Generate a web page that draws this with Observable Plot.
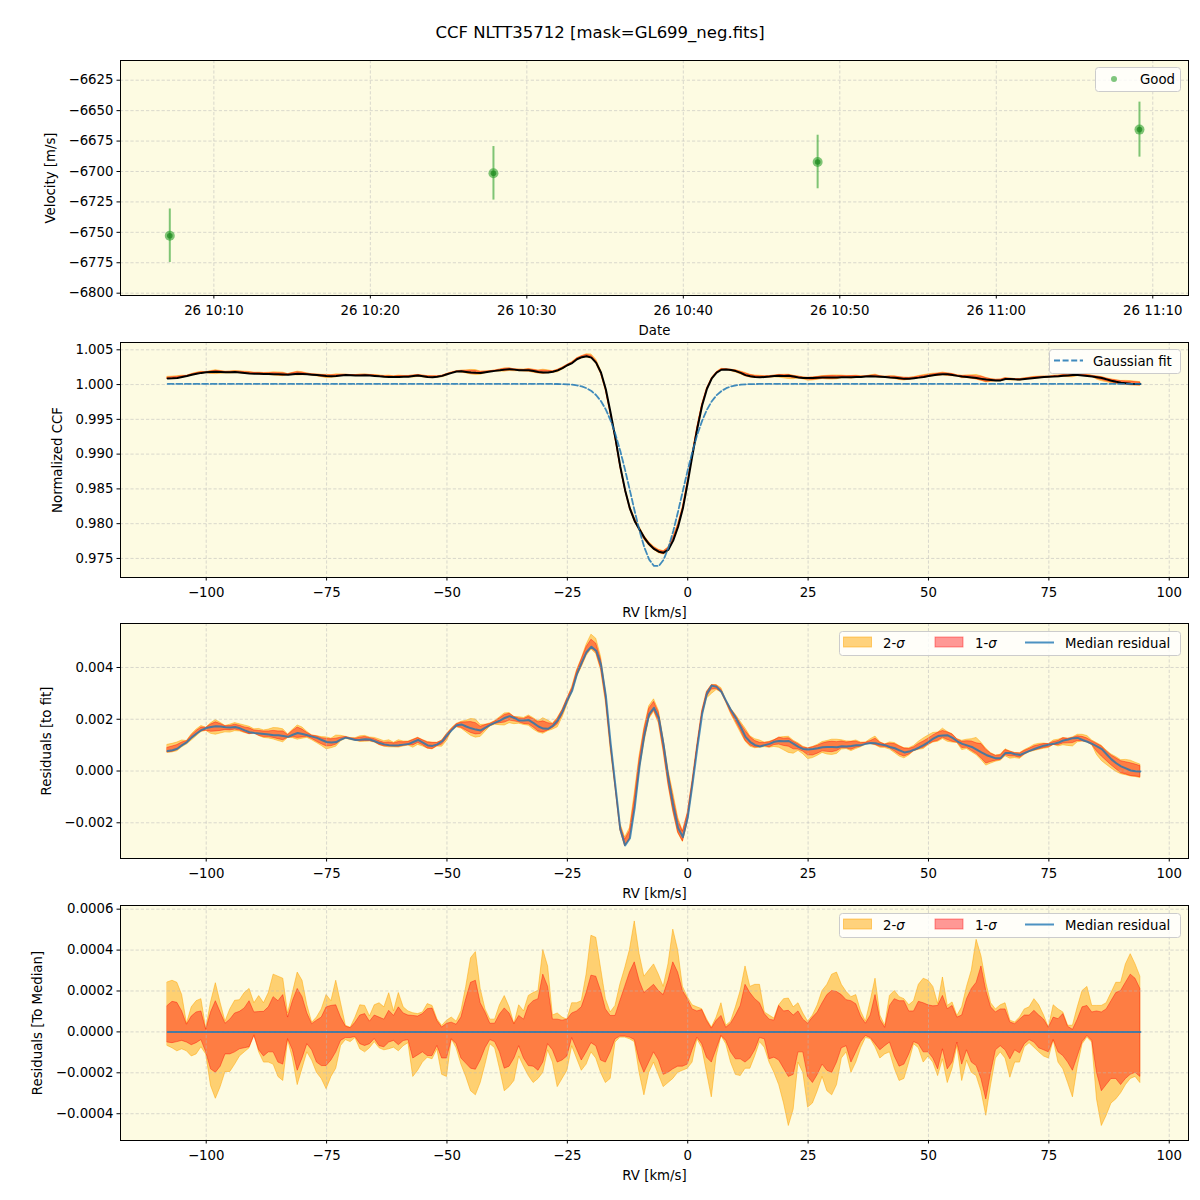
<!DOCTYPE html>
<html>
<head>
<meta charset="utf-8">
<script src="https://cdn.jsdelivr.net/npm/d3@7"></script>
<script src="https://cdn.jsdelivr.net/npm/@observablehq/plot@0.6"></script>
<style>
  html, body { margin: 0; padding: 0; background: #ffffff; }
  #wrap { position: relative; width: 1200px; height: 1200px; font-family: "DejaVu Sans", sans-serif; color: #000; }
  #title { position: absolute; left: 0; top: 23px; width: 1200px; text-align: center; font-size: 16.5px; }
  .leg { position: absolute; overflow: visible; }
</style>
</head>
<body>
<div id="wrap"><div id="title">CCF NLTT35712 [mask=GL699_neg.fits]</div></div>
<script>
// ---------------- DATA ----------------
// Panel 1: observations (time of each CCF, velocity and its error)
const obsTimes = ["10:07:11", "10:27:52", "10:48:35", "11:09:09"];
const obsVelocity = [-6752.8, -6701.5, -6692.2, -6665.6];
const obsVelocityErr = [22.0, 22.0, 22.0, 22.6];
const obsDay = "2023-06-26";
const dateTicks = ["10:10", "10:20", "10:30", "10:40", "10:50", "11:00", "11:10"];
const velocityTicks = [-6800, -6775, -6750, -6725, -6700, -6675, -6650, -6625];

// RV grid [km/s] (1 km/s steps)
const rv = d3.range(-108, 95, 1);
const rvTicks = [-100, -75, -50, -25, 0, 25, 50, 75, 100];
const ccfTicks = [0.975, 0.980, 0.985, 0.990, 0.995, 1.000, 1.005];
const residTicks = [-0.002, 0.000, 0.002, 0.004];
const medTicks = [-0.0004, -0.0002, 0.0000, 0.0002, 0.0004, 0.0006];

// Gaussian fit of the CCF on the rv grid
const gaussFit = [
  1.0001,1.0001,1.0001,1.0001,1.0001,1.0001,1.0001,1.0001,1.0001,1.0001,
  1.0001,1.0001,1.0001,1.0001,1.0001,1.0001,1.0001,1.0001,1.0001,1.0001,
  1.0001,1.0001,1.0001,1.0001,1.0001,1.0001,1.0001,1.0001,1.0001,1.0001,
  1.0001,1.0001,1.0001,1.0001,1.0001,1.0001,1.0001,1.0001,1.0001,1.0001,
  1.0001,1.0001,1.0001,1.0001,1.0001,1.0001,1.0001,1.0001,1.0001,1.0001,
  1.0001,1.0001,1.0001,1.0001,1.0001,1.0001,1.0001,1.0001,1.0001,1.0001,
  1.0001,1.0001,1.0001,1.0001,1.0001,1.0001,1.0001,1.0001,1.0001,1.0001,
  1.0001,1.0001,1.0001,1.0001,1.0001,1.0001,1.0001,1.0001,1.0001,1.0001,
  1.00009,1.00008,1.00007,1.00004,0.99999,0.99989,0.99974,0.99948,0.99907,0.99847,
  0.99760,0.99640,0.99482,0.99283,0.99044,0.98770,0.98475,0.98176,0.97895,0.97657,
  0.97483,0.97392,0.97392,0.97483,0.97657,0.97895,0.98176,0.98475,0.98770,0.99044,
  0.99283,0.99482,0.99640,0.99760,0.99847,0.99907,0.99948,0.99974,0.99989,0.99999,
  1.00004,1.00007,1.00008,1.00009,
  1.0001,1.0001,1.0001,1.0001,1.0001,1.0001,1.0001,1.0001,1.0001,1.0001,
  1.0001,1.0001,1.0001,1.0001,1.0001,1.0001,1.0001,1.0001,1.0001,1.0001,
  1.0001,1.0001,1.0001,1.0001,1.0001,1.0001,1.0001,1.0001,1.0001,1.0001,
  1.0001,1.0001,1.0001,1.0001,1.0001,1.0001,1.0001,1.0001,1.0001,1.0001,
  1.0001,1.0001,1.0001,1.0001,1.0001,1.0001,1.0001,1.0001,1.0001,1.0001,
  1.0001,1.0001,1.0001,1.0001,1.0001,1.0001,1.0001,1.0001,1.0001,1.0001,
  1.0001,1.0001,1.0001,1.0001,1.0001,1.0001,1.0001,1.0001,1.0001,1.0001,
  1.0001,1.0001,1.0001,1.0001,1.0001,1.0001,1.0001,1.0001,1.0001
];

// Median residual (CCF - fit), units of 1e-3
const medianResid = [
  0.77,0.80,0.86,1.00,1.12,1.30,1.45,1.58,1.66,1.70,
  1.73,1.72,1.69,1.68,1.70,1.65,1.57,1.50,1.47,1.45,
  1.43,1.41,1.38,1.38,1.35,1.32,1.40,1.47,1.43,1.38,
  1.33,1.28,1.20,1.12,1.10,1.12,1.22,1.29,1.25,1.20,
  1.21,1.23,1.22,1.15,1.08,1.03,1.00,0.99,1.00,1.02,
  1.04,1.12,1.20,1.10,0.99,0.97,1.03,1.15,1.38,1.58,
  1.77,1.80,1.72,1.65,1.60,1.57,1.68,1.78,1.87,1.95,
  2.05,2.12,2.05,1.95,1.95,1.97,1.85,1.72,1.64,1.63,
  1.75,1.96,2.30,2.74,3.10,3.75,4.20,4.60,4.80,4.65,
  4.10,2.90,1.05,-0.60,-2.25,-2.88,-2.60,-1.40,0.20,1.40,
  2.20,2.44,2.05,1.00,-0.30,-1.35,-2.20,-2.55,-1.80,-0.50,
  0.90,2.20,3.00,3.30,3.25,3.06,2.70,2.35,2.05,1.70,
  1.32,1.12,1.00,0.95,1.00,1.05,1.13,1.16,1.15,1.16,
  1.05,0.93,0.85,0.83,0.85,0.88,0.92,0.93,0.93,0.92,
  0.96,0.95,0.97,1.00,1.00,1.05,1.08,1.07,1.03,1.00,
  0.93,0.88,0.80,0.72,0.75,0.82,0.90,1.00,1.12,1.25,
  1.35,1.37,1.38,1.28,1.15,1.05,0.99,0.93,0.83,0.72,
  0.62,0.55,0.49,0.50,0.70,0.70,0.65,0.62,0.70,0.78,
  0.85,0.92,0.98,1.02,1.05,1.10,1.18,1.22,1.27,1.28,
  1.20,1.13,1.05,0.95,0.85,0.65,0.45,0.30,0.18,0.10,
  0.02,-0.01,-0.02
];

// Bands relative to the median, units of 1e-4
const upper2 = [
  2.42,2.50,2.40,1.80,0.40,1.20,1.50,1.60,0.15,1.44,
  2.38,1.40,0.50,1.10,1.52,1.55,1.90,2.10,1.40,1.75,
  1.40,1.90,2.80,2.70,2.60,0.90,1.90,2.90,2.50,1.30,
  0.45,0.70,1.10,1.80,1.50,2.50,1.40,0.30,0.20,0.70,
  1.30,1.27,0.75,1.30,1.40,1.20,1.89,1.00,1.90,1.20,
  1.00,0.91,0.87,0.95,1.36,1.27,0.62,0.29,0.55,0.70,
  0.50,1.00,2.20,3.60,3.90,2.10,1.10,0.60,0.60,1.30,
  1.75,1.20,0.38,1.30,1.00,1.76,1.90,2.00,4.00,3.20,
  0.80,0.90,0.70,0.60,1.40,1.40,1.50,2.80,4.70,4.60,
  3.10,1.60,0.95,1.27,2.30,3.10,4.00,5.40,3.80,2.70,
  3.00,3.30,2.80,2.20,3.30,5.00,4.00,2.20,1.70,1.30,
  1.20,1.11,0.62,0.21,0.70,1.40,0.30,0.50,1.20,2.00,
  3.20,2.20,2.30,2.30,0.95,0.80,0.65,1.30,1.60,1.63,
  1.20,1.40,0.90,0.50,0.80,1.30,2.00,2.30,2.80,2.90,
  2.30,1.95,1.70,1.80,1.00,0.50,1.50,2.60,0.80,0.30,
  1.76,2.00,1.70,1.60,1.30,1.50,2.30,2.60,2.50,2.20,
  1.36,2.66,1.27,1.44,0.78,1.20,2.20,3.00,4.50,3.70,
  2.40,1.40,1.10,1.30,1.40,0.55,0.46,0.70,1.10,1.20,
  1.60,1.30,0.80,0.20,1.30,1.10,0.95,0.30,0.30,1.20,
  2.00,2.20,1.27,1.27,1.27,1.40,1.90,2.40,2.40,3.30,
  3.80,3.30,2.70
];
const upper1 = [
  1.27,1.47,1.42,1.00,0.35,0.75,0.95,1.00,0.10,0.95,
  1.50,0.95,0.40,0.60,0.90,0.98,1.15,1.50,0.95,0.97,
  0.98,1.20,1.70,1.50,1.80,0.70,1.50,2.10,1.70,0.90,
  0.38,0.55,0.70,1.20,1.27,1.30,0.70,0.26,0.18,0.45,
  0.80,0.87,0.50,0.80,0.70,0.60,1.03,0.78,1.20,0.90,
  0.80,0.78,0.75,0.87,1.11,1.14,0.54,0.21,0.40,0.45,
  0.35,0.70,1.60,2.40,2.50,1.40,0.95,0.40,0.40,0.85,
  1.15,0.90,0.38,0.78,0.60,1.27,1.50,1.60,2.80,2.20,
  0.60,0.60,0.55,0.60,0.90,1.00,1.20,1.90,2.75,2.70,
  2.00,1.10,0.78,0.78,1.50,2.20,2.90,3.40,2.50,1.90,
  2.10,2.30,2.00,1.80,2.50,3.40,2.90,2.00,1.60,1.10,
  1.00,1.07,0.54,0.16,0.54,0.78,0.20,0.40,0.80,1.27,
  2.30,1.90,1.60,1.40,0.87,0.60,0.55,1.27,1.00,1.03,
  0.80,1.00,0.60,0.40,0.70,0.95,1.40,1.80,2.00,1.95,
  1.80,1.55,1.50,1.35,0.75,0.40,0.80,1.80,0.60,0.20,
  1.27,1.60,1.50,1.50,1.00,1.00,1.47,1.40,1.30,1.25,
  1.27,1.76,1.11,1.27,0.70,0.80,1.60,2.10,2.40,3.20,
  2.00,1.20,0.95,1.10,1.10,0.46,0.38,0.60,0.80,0.80,
  1.03,0.80,0.60,0.20,0.70,0.62,0.87,0.25,0.10,0.60,
  1.20,1.27,0.95,1.00,0.95,1.10,1.50,1.90,2.00,2.40,
  2.80,2.60,2.10
];
const lower1 = [
  -0.52,-0.55,-0.50,-0.44,-0.52,-0.65,-0.55,-0.40,-1.00,-1.83,
  -2.00,-1.70,-1.10,-1.10,-1.00,-0.85,-0.80,-0.75,-0.20,-0.90,
  -1.20,-1.00,-1.00,-1.50,-1.60,-0.35,-0.90,-1.90,-1.30,-0.60,
  -0.90,-1.50,-1.67,-1.67,-1.40,-1.00,-0.44,-0.30,-0.30,-0.25,
  -0.60,-0.69,-0.60,-0.35,-0.70,-0.75,-0.52,-0.44,-0.65,-0.45,
  -0.40,-1.30,-1.15,-1.00,-1.18,-1.18,-0.69,-1.30,-1.30,-0.36,
  -0.60,-1.30,-1.55,-1.80,-1.85,-1.40,-0.80,-0.40,-0.50,-1.00,
  -1.80,-1.70,-1.30,-0.70,-1.30,-1.67,-1.70,-1.90,-1.50,-0.60,
  -0.90,-1.50,-1.40,-1.20,-0.30,-0.85,-1.40,-1.00,-0.55,-0.70,
  -1.40,-1.50,-1.00,-0.36,-0.23,-0.23,-0.28,-0.40,-1.40,-2.00,
  -1.50,-1.00,-1.40,-2.10,-2.00,-1.83,-1.70,-1.70,-1.60,-0.90,
  -0.28,-0.60,-1.26,-1.50,-0.85,-0.20,-0.44,-1.00,-1.34,-1.34,
  -1.50,-1.30,-0.90,-0.30,-0.36,-1.34,-1.26,-1.40,-1.80,-2.20,
  -2.10,-1.00,-1.00,-2.20,-2.50,-2.10,-1.60,-1.90,-2.00,-1.50,
  -0.80,-0.70,-1.50,-1.00,-0.50,-0.20,-0.30,-0.60,-0.90,-0.70,
  -0.52,-1.20,-1.70,-1.60,-1.10,-0.50,-0.60,-1.00,-1.00,-1.30,
  -1.83,-0.85,-1.83,-1.50,-0.52,-1.60,-0.90,-1.50,-1.67,-2.30,
  -3.30,-2.00,-0.90,-0.70,-0.90,-1.34,-0.90,-1.05,-0.60,-0.40,
  -0.52,-0.80,-0.90,-1.00,-0.40,-1.00,-1.18,-1.50,-1.90,-1.20,
  -0.50,-0.20,-0.44,-2.00,-2.90,-2.60,-2.30,-2.30,-2.60,-2.30,
  -2.10,-2.00,-2.20
];
const lower2 = [
  -0.69,-0.80,-0.95,-0.85,-0.95,-1.20,-1.10,-0.75,-1.10,-2.64,
  -3.27,-2.70,-1.96,-1.96,-1.60,-1.20,-1.00,-0.80,-0.15,-1.00,
  -1.50,-1.50,-1.60,-2.20,-2.40,-0.40,-1.30,-2.60,-1.80,-1.00,
  -1.40,-2.00,-2.30,-2.80,-2.20,-1.80,-0.69,-0.40,-0.50,-0.30,
  -0.85,-1.00,-0.80,-0.50,-0.80,-0.90,-0.85,-0.77,-0.95,-0.70,
  -0.55,-2.20,-1.90,-1.50,-1.26,-1.34,-0.85,-2.10,-2.20,-0.36,
  -0.80,-1.60,-2.20,-2.90,-3.10,-2.50,-1.60,-0.60,-0.80,-1.80,
  -2.90,-2.70,-2.40,-1.20,-1.70,-2.16,-2.50,-2.30,-2.00,-0.90,
  -1.50,-2.70,-2.30,-1.90,-0.70,-1.30,-1.90,-1.60,-1.00,-1.30,
  -2.00,-2.50,-2.30,-0.52,-0.28,-0.28,-0.36,-0.50,-2.00,-3.10,
  -2.00,-1.50,-2.10,-2.70,-2.50,-2.30,-2.00,-1.90,-1.80,-1.50,
  -0.36,-0.77,-2.00,-3.20,-1.20,-0.20,-0.60,-1.50,-2.10,-2.16,
  -1.80,-1.80,-1.20,-0.50,-0.77,-1.50,-2.00,-2.60,-3.50,-4.60,
  -3.80,-1.50,-2.00,-3.70,-3.50,-2.90,-2.20,-2.90,-3.10,-2.60,
  -1.30,-1.00,-2.00,-1.50,-0.80,-0.30,-0.35,-0.75,-1.30,-1.10,
  -1.00,-1.80,-2.40,-2.30,-1.50,-0.60,-0.80,-1.50,-1.20,-1.50,
  -2.16,-1.34,-2.50,-1.80,-0.69,-2.40,-1.40,-2.00,-2.16,-2.90,
  -4.10,-2.60,-1.30,-1.00,-1.30,-2.24,-1.50,-1.50,-0.75,-0.55,
  -0.77,-1.00,-1.20,-1.30,-0.40,-1.50,-1.83,-2.50,-3.20,-1.70,
  -0.60,-0.28,-0.52,-3.30,-4.60,-4.10,-3.50,-3.30,-3.00,-2.60,
  -2.30,-2.20,-2.50
];

// ---------------- DRAWING ----------------
const BG = "#fdfbe2";
const FONT = "DejaVu Sans";
const idx = d3.range(rv.length);
const med = i => medianResid[i] * 1e-3;
const band = (arr, i) => arr[i] * 1e-4;
const toDate = t => new Date(`${obsDay}T${t}Z`);
const obsDates = obsTimes.map(toDate);
const dateTickDates = dateTicks.map(t => toDate(t + ":00"));

const gridStyle = {stroke: "#b8b8b8", strokeOpacity: 0.65, strokeWidth: 0.8, strokeDasharray: "3.2,2"};
const wrap = document.getElementById("wrap");

function place(svg, top) {
  svg.style.position = "absolute";
  svg.style.left = "0px";
  svg.style.top = top + "px";
  wrap.appendChild(svg);
}

function panel(top, xOpts, yOpts, marks) {
  const svg = Plot.plot({
    width: 1200, height: 290,
    marginTop: 10, marginBottom: 45, marginLeft: 120, marginRight: 12,
    style: {background: "transparent", fontFamily: FONT, fontSize: "13.3px", color: "black", overflow: "visible"},
    x: Object.assign({labelAnchor: "center", labelOffset: 39, tickSize: 3.5, tickPadding: 6.5, labelArrow: "none"}, xOpts),
    y: Object.assign({labelAnchor: "center", tickSize: 3.5, tickPadding: 3.5, labelArrow: "none"}, yOpts),
    marks: [Plot.frame({fill: BG, stroke: null}), ...marks, Plot.frame({stroke: "black", strokeWidth: 1})]
  });
  place(svg, top);
}

const rvX = {domain: [-117.8, 104.0], ticks: rvTicks, tickFormat: d3.format("d"), label: "RV [km/s]"};

// Panel 1 : velocities
panel(50,
  {type: "utc", domain: [toDate("10:04:02"), toDate("11:12:17")], ticks: dateTickDates, tickFormat: d3.utcFormat("%d %H:%M"), label: "Date"},
  {domain: [-6801.9, -6608.8], ticks: velocityTicks, tickFormat: d3.format("d"), label: "Velocity [m/s]", labelOffset: 75},
  [
    Plot.ruleX(dateTickDates, gridStyle),
    Plot.ruleY(velocityTicks, gridStyle),
    Plot.ruleX(d3.range(obsDates.length), {x: i => obsDates[i], y1: i => obsVelocity[i] - obsVelocityErr[i], y2: i => obsVelocity[i] + obsVelocityErr[i], stroke: "#2ca02c", strokeOpacity: 0.6, strokeWidth: 2}),
    Plot.dot(d3.range(obsDates.length), {x: i => obsDates[i], y: i => obsVelocity[i], r: 5, fill: "#2ca02c", fillOpacity: 0.6, stroke: null}),
    Plot.dot(d3.range(obsDates.length), {x: i => obsDates[i], y: i => obsVelocity[i], r: 2.8, fill: "#1f8a1f", fillOpacity: 0.75, stroke: null})
  ]);

// Panel 2 : CCF
const ccf = i => gaussFit[i] + med(i);
panel(332, rvX,
  {domain: [0.97226, 1.00605], ticks: ccfTicks, tickFormat: d3.format(".3f"), label: "Normalized CCF", labelOffset: 68},
  [
    Plot.areaY(idx, {x: i => rv[i], y1: i => ccf(i) + band(lower2, i), y2: i => ccf(i) + band(upper2, i), fill: "orange", fillOpacity: 0.5, stroke: "orange", strokeOpacity: 0.5, strokeWidth: 1}),
    Plot.areaY(idx, {x: i => rv[i], y1: i => ccf(i) + band(lower1, i), y2: i => ccf(i) + band(upper1, i), fill: "red", fillOpacity: 0.4, stroke: "red", strokeOpacity: 0.4, strokeWidth: 1}),
    Plot.ruleX(rvTicks, gridStyle),
    Plot.ruleY(ccfTicks, gridStyle),
    Plot.line(idx, {x: i => rv[i], y: i => ccf(i), stroke: "black", strokeWidth: 2}),
    Plot.line(idx, {x: i => rv[i], y: i => gaussFit[i], stroke: "#1f77b4", strokeOpacity: 0.85, strokeWidth: 1.8, strokeDasharray: "6,2.6"})
  ]);

// Panel 3 : residuals to fit
panel(613, rvX,
  {domain: [-0.00338, 0.0057], ticks: residTicks, tickFormat: d3.format(".3f"), label: "Residuals [to fit]", labelOffset: 79},
  [
    Plot.areaY(idx, {x: i => rv[i], y1: i => med(i) + band(lower2, i), y2: i => med(i) + band(upper2, i), fill: "orange", fillOpacity: 0.5, stroke: "orange", strokeOpacity: 0.5, strokeWidth: 1}),
    Plot.areaY(idx, {x: i => rv[i], y1: i => med(i) + band(lower1, i), y2: i => med(i) + band(upper1, i), fill: "red", fillOpacity: 0.4, stroke: "red", strokeOpacity: 0.4, strokeWidth: 1}),
    Plot.ruleX(rvTicks, gridStyle),
    Plot.ruleY(residTicks, gridStyle),
    Plot.line(idx, {x: i => rv[i], y: i => med(i), stroke: "#1f77b4", strokeOpacity: 0.8, strokeWidth: 2})
  ]);

// Panel 4 : residuals to median
panel(895, rvX,
  {domain: [-0.000531, 0.000618], ticks: medTicks, tickFormat: d3.format(".4f"), label: "Residuals [To Median]", labelOffset: 88},
  [
    Plot.areaY(idx, {x: i => rv[i], y1: i => band(lower2, i), y2: i => band(upper2, i), fill: "orange", fillOpacity: 0.5, stroke: "orange", strokeOpacity: 0.5, strokeWidth: 1}),
    Plot.areaY(idx, {x: i => rv[i], y1: i => band(lower1, i), y2: i => band(upper1, i), fill: "red", fillOpacity: 0.4, stroke: "red", strokeOpacity: 0.4, strokeWidth: 1}),
    Plot.ruleX(rvTicks, gridStyle),
    Plot.ruleY(medTicks, gridStyle),
    Plot.line(idx, {x: i => rv[i], y: i => med(i) - med(i), stroke: "#1f77b4", strokeOpacity: 0.8, strokeWidth: 2})
  ]);

// ---------------- LEGENDS ----------------
const NS = "http://www.w3.org/2000/svg";
function el(name, attrs, parent) {
  const e = document.createElementNS(NS, name);
  for (const k in attrs) e.setAttribute(k, attrs[k]);
  if (parent) parent.appendChild(e);
  return e;
}
function legendBox(x, y, w, h) {
  const svg = el("svg", {width: w + 2, height: h + 2, class: "leg"});
  svg.style.left = (x - 1) + "px";
  svg.style.top = (y - 1) + "px";
  svg.style.fontFamily = FONT;
  svg.style.fontSize = "13.3px";
  el("rect", {x: 1.5, y: 1.5, width: w - 1, height: h - 1, rx: 3, fill: "white", "fill-opacity": 0.8, stroke: "#cccccc", "stroke-width": 1}, svg);
  wrap.appendChild(svg);
  return svg;
}
function label(svg, x, y, parts) {
  const t = el("text", {x, y, "dominant-baseline": "central", fill: "black"}, svg);
  for (const [s, italic] of parts) {
    const ts = el("tspan", italic ? {"font-style": "italic"} : {}, t);
    ts.textContent = s;
  }
}
// panel 1
{
  const s = legendBox(1095, 67, 86, 25);
  el("circle", {cx: 20, cy: 13, r: 3, fill: "#2ca02c", "fill-opacity": 0.6}, s);
  label(s, 46, 13, [["Good", false]]);
}
// panel 2
{
  const s = legendBox(1049, 349, 132, 25);
  el("line", {x1: 6, x2: 35, y1: 12.5, y2: 12.5, stroke: "#1f77b4", "stroke-opacity": 0.85, "stroke-width": 1.8, "stroke-dasharray": "6,2.6"}, s);
  label(s, 45, 12.5, [["Gaussian fit", false]]);
}
// panels 3 and 4
function sigmaLegend(y) {
  const s = legendBox(839, y, 342, 25);
  el("rect", {x: 5.5, y: 7, width: 28, height: 10, fill: "orange", "fill-opacity": 0.5, stroke: "orange", "stroke-opacity": 0.5}, s);
  label(s, 45, 12.5, [["2-", false], ["σ", true]]);
  el("rect", {x: 97, y: 7, width: 28, height: 10, fill: "red", "fill-opacity": 0.4, stroke: "red", "stroke-opacity": 0.4}, s);
  label(s, 137, 12.5, [["1-", false], ["σ", true]]);
  el("line", {x1: 187, x2: 216, y1: 12.5, y2: 12.5, stroke: "#1f77b4", "stroke-opacity": 0.8, "stroke-width": 2}, s);
  label(s, 227, 12.5, [["Median residual", false]]);
}
sigmaLegend(631);
sigmaLegend(913);
</script>
</body>
</html>
